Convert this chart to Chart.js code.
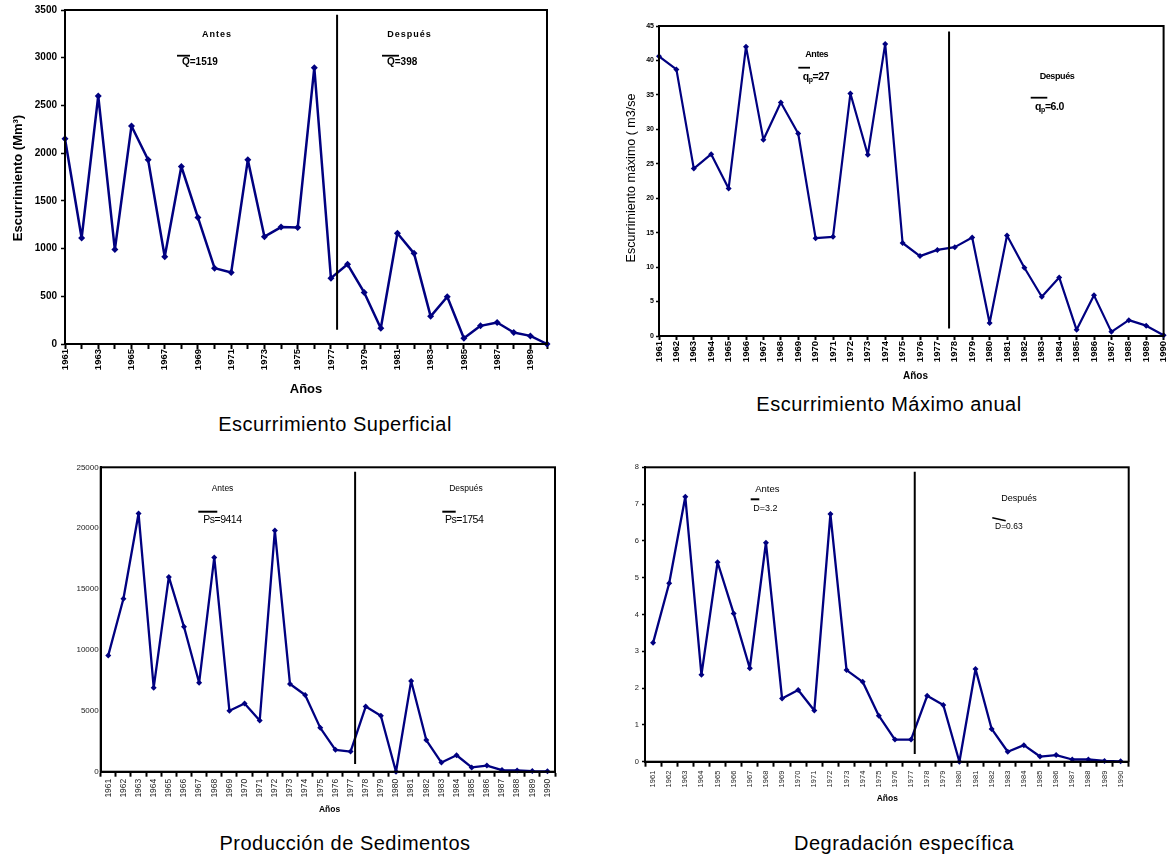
<!DOCTYPE html>
<html lang="es">
<head>
<meta charset="utf-8">
<title>Escurrimiento, sedimentos y degradación</title>
<script src="https://cdn.jsdelivr.net/npm/chart.js@4.4.1/dist/chart.umd.min.js"></script>
<style>
  body { margin: 0; background: #fff; }
  #page { position: relative; width: 1176px; height: 858px; overflow: hidden; font-family: "Liberation Sans", Arial, sans-serif; }
  canvas { position: absolute; }
  .caption { position: absolute; font-size: 20px; letter-spacing: 0.5px; line-height: 20px; color: #000; white-space: nowrap; transform: translate(-50%, -50%); }
</style>
</head>
<body>
<div id="page">
  <canvas id="superficialChart" width="560" height="400" style="left:0px;top:0px"></canvas>
  <canvas id="maximoChart" width="596" height="390" style="left:580px;top:0px"></canvas>
  <canvas id="sedimentosChart" width="580" height="390" style="left:0px;top:440px"></canvas>
  <canvas id="degradacionChart" width="586" height="390" style="left:590px;top:440px"></canvas>
  <div class="caption" style="left:335px;top:424px">Escurrimiento Superficial</div>
  <div class="caption" style="left:889px;top:404px">Escurrimiento Máximo anual</div>
  <div class="caption" style="left:345px;top:843px">Producción de Sedimentos</div>
  <div class="caption" style="left:904px;top:843px">Degradación específica</div>
</div>
<script>
Chart.defaults.font.family = '"Liberation Sans", Arial, sans-serif';
Chart.defaults.color = "#000";

const years = ["1961", "1962", "1963", "1964", "1965", "1966", "1967", "1968", "1969", "1970",
  "1971", "1972", "1973", "1974", "1975", "1976", "1977", "1978", "1979", "1980",
  "1981", "1982", "1983", "1984", "1985", "1986", "1987", "1988", "1989", "1990"];

// Mm3
const escSuperficial = [2150, 1110, 2600, 990, 2285, 1930, 915, 1860, 1325, 795,
  750, 1930, 1125, 1225, 1220, 2895, 690, 835, 540, 165,
  1160, 950, 290, 495, 60, 190, 225, 120, 85, 0];

// m3/seg
const escMaximo = [40.6, 38.7, 24.3, 26.4, 21.4, 42.0, 28.5, 33.9, 29.4, 14.2,
  14.4, 35.2, 26.3, 42.4, 13.5, 11.6, 12.5, 12.9, 14.3, 1.9,
  14.6, 9.9, 5.7, 8.5, 0.9, 5.9, 0.6, 2.3, 1.5, 0.1];

const prodSedimentos = [9550, 14200, 21200, 6900, 16000, 11900, 7300, 17600, 5000, 5600,
  4200, 19800, 7200, 6300, 3600, 1800, 1650, 5350, 4600, 0,
  7450, 2600, 750, 1350, 350, 500, 130, 100, 50, 30];

const degEspecifica = [3.23, 4.85, 7.2, 2.36, 5.42, 4.03, 2.54, 5.95, 1.72, 1.95,
  1.39, 6.73, 2.49, 2.17, 1.25, 0.6, 0.6, 1.79, 1.54, 0,
  2.52, 0.89, 0.27, 0.45, 0.14, 0.18, 0.06, 0.06, 0.02, 0.01];

// linea "antes / después": [posición en años (índice), valor inferior, valor superior]
const corteSuperficial = [16.37, 150, 3450];
const corteMaximo = [16.67, 1.1, 44.2];
const corteSedimentos = [16.3, 630, 24640];
const corteDegradacion = [16.23, 0.21, 7.88];

const navy = "#000080";

function drawRuns(ctx, t) {
  ctx.letterSpacing = t.spacing || "0px";
  let total = 0;
  t.runs.forEach((r) => {
    ctx.font = r[1] + ' "Liberation Sans", Arial, sans-serif';
    total += ctx.measureText(r[0]).width;
  });
  let x = t.align === "left" ? t.x : t.x - total / 2;
  ctx.textAlign = "left";
  ctx.textBaseline = "middle";
  ctx.fillStyle = t.color || "#000";
  t.runs.forEach((r) => {
    ctx.font = r[1] + ' "Liberation Sans", Arial, sans-serif';
    ctx.fillText(r[0], x, t.y + (r[2] || 0));
    x += ctx.measureText(r[0]).width;
  });
  ctx.letterSpacing = "0px";
}

function extras(s) {
  return {
    id: "extras",
    afterDraw(chart) {
      const ctx = chart.ctx;
      const a = chart.chartArea;
      const xs = chart.scales.x;
      const ys = chart.scales.y;
      ctx.save();
      ctx.strokeStyle = "#000";
      ctx.lineWidth = 2;
      ctx.strokeRect(a.left, a.top, a.right - a.left, a.bottom - a.top);

      const dx = xs.getPixelForValue(s.corte[0]);
      ctx.beginPath();
      ctx.moveTo(dx, ys.getPixelForValue(s.corte[1]));
      ctx.lineTo(dx, ys.getPixelForValue(s.corte[2]));
      ctx.stroke();

      s.bars.forEach((b) => {
        ctx.lineWidth = b[4] || 1.8;
        ctx.beginPath();
        ctx.moveTo(b[0], b[1]);
        ctx.lineTo(b[2], b[3]);
        ctx.stroke();
      });

      s.texts.forEach((t) => drawRuns(ctx, t));
      drawRuns(ctx, s.xTitle);

      if (s.yTitle) {
        ctx.translate(s.yTitle.x, s.yTitle.y);
        ctx.rotate(-Math.PI / 2);
        drawRuns(ctx, { x: 0, y: 0, runs: s.yTitle.runs });
      }
      ctx.restore();
    },
  };
}

function makeChart(id, values, s) {
  return new Chart(document.getElementById(id), {
    type: "line",
    data: {
      labels: years,
      datasets: [
        {
          data: values,
          borderColor: navy,
          backgroundColor: navy,
          borderWidth: s.lineWidth,
          borderJoinStyle: "round",
          borderCapStyle: "round",
          pointStyle: "rectRot",
          pointRadius: s.pointRadius,
          pointBorderWidth: 0,
          pointBackgroundColor: navy,
          tension: 0,
          fill: false,
          clip: false,
        },
      ],
    },
    options: {
      responsive: false,
      animation: false,
      layout: { padding: s.padding },
      plugins: { legend: { display: false }, tooltip: { enabled: false } },
      scales: {
        x: {
          type: "category",
          offset: s.offset,
          grid: {
            drawOnChartArea: false,
            drawTicks: true,
            tickLength: s.xTickLen,
            tickWidth: 2,
            tickColor: "#000",
            offset: s.offset,
          },
          border: { display: true, color: "#000", width: 2 },
          ticks: {
            autoSkip: false,
            minRotation: 90,
            maxRotation: 90,
            padding: s.xPad,
            font: s.xFont,
            color: s.tickColor,
            callback: (value, index) => (index % s.labelEvery === 0 ? years[index] : ""),
          },
          afterFit(scale) {
            scale.height = s.xHeight;
          },
        },
        y: {
          min: s.yMin,
          max: s.yMax,
          grid: {
            drawOnChartArea: false,
            drawTicks: s.yTickLen > 0,
            tickLength: s.yTickLen,
            tickWidth: 1.5,
            tickColor: "#000",
          },
          border: { display: true, color: "#000", width: 2 },
          ticks: {
            stepSize: s.step,
            padding: s.yPad,
            font: s.yFont,
            color: s.tickColor,
            callback: (value) => String(value),
          },
          afterFit(scale) {
            scale.width = s.yWidth;
          },
        },
      },
    },
    plugins: [extras(s)],
  });
}

const chartSuperficial = makeChart("superficialChart", escSuperficial, {
  yMin: 0, yMax: 3500, step: 500,
  yWidth: 65, xHeight: 56, padding: { top: 10, right: 13, left: 0, bottom: 0 },
  offset: false, labelEvery: 2,
  xTickLen: 5, xPad: 0, yTickLen: 4, yPad: 4,
  xFont: { size: 9.5, weight: "bold" }, yFont: { size: 10, weight: "bold" }, tickColor: "#000",
  lineWidth: 2.5, pointRadius: 3.5,
  corte: corteSuperficial,
  texts: [
    { x: 217, y: 34.5, runs: [["Antes", "bold 9px"]], spacing: "1px" },
    { x: 182, y: 62.5, align: "left", runs: [["Q=1519", "bold 10px"]] },
    { x: 409.5, y: 34.5, runs: [["Después", "bold 9px"]], spacing: "1px" },
    { x: 387, y: 62.5, align: "left", runs: [["Q=398", "bold 10px"]] },
  ],
  bars: [[177, 55.7, 190, 55.7], [382, 55.7, 399, 55.7]],
  xTitle: { x: 306, y: 389, runs: [["Años", "bold 13px"]] },
  yTitle: { x: 18, y: 178, runs: [["Escurrimiento (Mm³)", "bold 13px"]] },
});

const chartMaximo = makeChart("maximoChart", escMaximo, {
  yMin: 0, yMax: 45, step: 5,
  yWidth: 79, xHeight: 54, padding: { top: 26, right: 6, left: 0, bottom: 0 },
  offset: false, labelEvery: 1,
  xTickLen: 4, xPad: 1, yTickLen: 3, yPad: 2,
  xFont: { size: 9.5, weight: "bold" }, yFont: { size: 7, weight: "bold" }, tickColor: "#000",
  lineWidth: 2.2, pointRadius: 3,
  corte: corteMaximo,
  texts: [
    { x: 236.7, y: 54.3, runs: [["Antes", "bold 9px"]], spacing: "-0.4px" },
    { x: 222.7, y: 76.7, align: "left", runs: [["q", "bold 10.5px"], ["p", "bold 7px", 3], ["=27", "bold 10.5px"]], spacing: "-0.4px" },
    { x: 477, y: 76.7, runs: [["Después", "bold 9px"]], spacing: "-0.4px" },
    { x: 455, y: 106.7, align: "left", runs: [["q", "bold 10.5px"], ["p", "bold 7px", 3], ["=6.0", "bold 10.5px"]], spacing: "-0.4px" },
  ],
  bars: [[218.3, 67.7, 230, 67.7], [450.7, 97.7, 467.3, 97.7]],
  xTitle: { x: 335.5, y: 376, runs: [["Años", "bold 10px"]] },
  yTitle: { x: 52, y: 178, runs: [["Escurrimiento máximo ( m3/se", "12.5px"]] },
});

const chartSedimentos = makeChart("sedimentosChart", prodSedimentos, {
  yMin: 0, yMax: 25000, step: 5000,
  yWidth: 100.7, xHeight: 58.3, padding: { top: 27.3, right: 25, left: 0, bottom: 0 },
  offset: true, labelEvery: 1,
  xTickLen: 5, xPad: 2, yTickLen: 0, yPad: 2,
  xFont: { size: 8.5 }, yFont: { size: 8 }, tickColor: "#222",
  lineWidth: 2.3, pointRadius: 3,
  corte: corteSedimentos,
  texts: [
    { x: 222.5, y: 49, runs: [["Antes", "8.5px"]] },
    { x: 203.3, y: 80, align: "left", runs: [["Ps=9414", "10.5px"]], spacing: "-0.5px" },
    { x: 466, y: 49, runs: [["Después", "8.5px"]] },
    { x: 445, y: 80, align: "left", runs: [["Ps=1754", "10.5px"]], spacing: "-0.5px" },
  ],
  bars: [[198.3, 71.7, 217.3, 71.7, 2], [442.3, 71.7, 455.7, 71.7, 2]],
  xTitle: { x: 329.6, y: 369.3, runs: [["Años", "bold 8.5px"]] },
});

const chartDegradacion = makeChart("degradacionChart", degEspecifica, {
  yMin: 0, yMax: 8, step: 1,
  yWidth: 55, xHeight: 68.3, padding: { top: 27.3, right: 47.3, left: 0, bottom: 0 },
  offset: true, labelEvery: 1,
  xTickLen: 5, xPad: 4, yTickLen: 3, yPad: 3,
  xFont: { size: 7.5 }, yFont: { size: 7.5 }, tickColor: "#222",
  lineWidth: 2.3, pointRadius: 3,
  corte: corteDegradacion,
  texts: [
    { x: 177.3, y: 49, runs: [["Antes", "9.5px"]] },
    { x: 163.3, y: 69, align: "left", runs: [["D=3.2", "9px"]] },
    { x: 429, y: 59, runs: [["Después", "9px"]] },
    { x: 405, y: 86.7, align: "left", runs: [["D=0.63", "8.5px"]] },
  ],
  bars: [[160.7, 59.3, 169.3, 59.3, 2], [402.3, 77.7, 415.7, 80.7, 1.5]],
  xTitle: { x: 297.3, y: 359, runs: [["Años", "bold 8.5px"]] },
});
</script>
</body>
</html>
